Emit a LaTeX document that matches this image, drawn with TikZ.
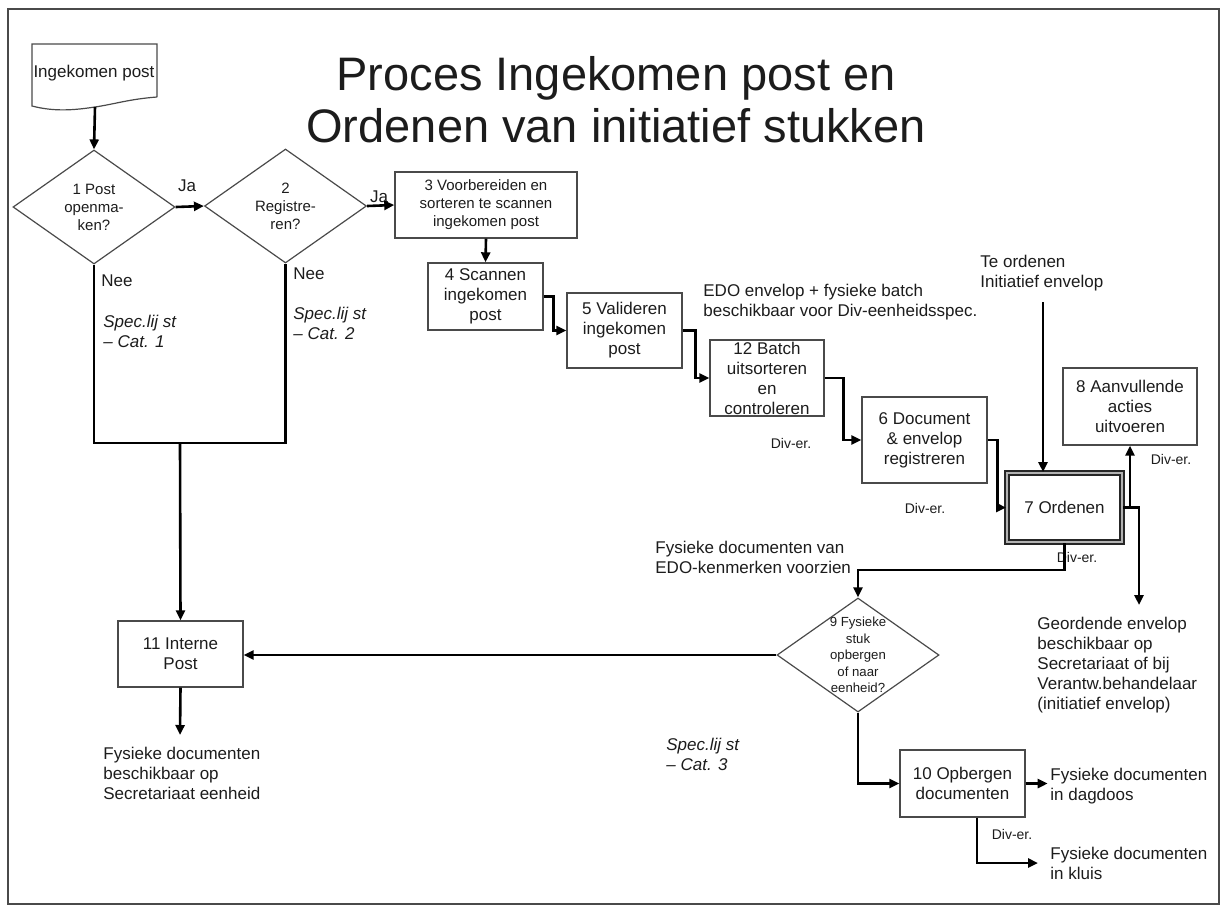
\documentclass[tikz,border=0pt]{standalone}
\usepackage{fontspec}
\setmainfont{Liberation Sans}
\usetikzlibrary{shapes.geometric, arrows.meta, positioning, calc}
\definecolor{lijngrijs}{HTML}{4A4A4A}
\definecolor{tekstzwart}{HTML}{1C1C1C}

\begin{document}
\begin{tikzpicture}[x=0.5pt, y=-0.5pt,
    proc/.style={rectangle, draw=lijngrijs, line width=0.7pt, inner sep=2pt, align=center, text=tekstzwart, font=\fontsize{8.5}{10}\selectfont},
    ordenen/.style={draw=black!85, double=gray!60, double distance=0.9pt, line width=1pt},
    beslis/.style={diamond, draw=lijngrijs, line width=0.6pt, inner sep=0pt, minimum width=81pt, minimum height=57pt, align=center, text=tekstzwart, font=\fontsize{7.5}{9}\selectfont},
    tekst/.style={inner sep=0pt, text=tekstzwart, font=\fontsize{8.5}{10}\selectfont},
    notitie/.style={tekst, anchor=north west, align=left},
    spec/.style={notitie, font=\fontsize{8.5}{10}\selectfont\itshape},
    klein/.style={tekst, font=\fontsize{7}{8}\selectfont},
    pijl/.style={-{Triangle[length=5pt, width=4.5pt]}, line width=1.3pt},
    lijn/.style={line width=1.3pt}
]
\useasboundingbox (0,0) rectangle (1221,912);
\draw[lijngrijs, line width=0.6pt] (8,9) rectangle (1219,904);

% titel
\node[tekst, font=\fontsize{23.5}{26}\selectfont, align=center, anchor=north] (titel) at (616,56) {Proces Ingekomen post en\\Ordenen van initiatief stukken};

% document ingekomen post
\node[tekst] (inpost) at (94,73) {Ingekomen post};
\draw[lijngrijs, line width=0.6pt] (157,97) -- (157,44) -- (32,44) -- (32,106)
    .. controls (55,112) and (75,110) .. (95,107) .. controls (115,104) and (130,99) .. (157,97);
\coordinate (inpostpunt) at (95,107);

% beslissingen
\node[beslis] (d1) at (94,207) {1 Post\\openma-\\ken?};
\node[beslis] (d2) at (285.5,206) {2\\Registre-\\ren?};
\node[beslis, inner sep=-3pt, font=\fontsize{6.6}{8.2}\selectfont] (d9) at (858,655) {9 Fysieke\\stuk\\opbergen\\of naar\\eenheid?};

% processtappen
\node[proc, minimum width=91pt, minimum height=33pt, font=\fontsize{7.5}{9}\selectfont] (b3) at (486,205) {3 Voorbereiden en\\sorteren te scannen\\ingekomen post};
\node[proc, minimum width=57.5pt, minimum height=33.5pt] (b4) at (485.5,296.5) {4 Scannen\\ingekomen\\post};
\node[proc, minimum width=57.5pt, minimum height=37.5pt] (b5) at (624.5,330.5) {5 Valideren\\ingekomen\\post};
\node[proc, minimum width=57pt, minimum height=38pt, inner ysep=0pt] (b12) at (767,378) {12 Batch\\uitsorteren\\en\\controleren};
\node[proc, minimum width=62.5pt, minimum height=43pt] (b6) at (924.5,440) {6 Document\\\& envelop\\registreren};
\node[proc, ordenen, minimum width=57.5pt, minimum height=34.5pt] (b7) at (1064.5,507.5) {7 Ordenen};
\node[proc, minimum width=67pt, minimum height=38.5pt] (b8) at (1130,406.5) {8 Aanvullende\\acties\\uitvoeren};
\node[proc, minimum width=62.5pt, minimum height=33.5pt] (b10) at (962.5,783.5) {10 Opbergen\\documenten};
\node[proc, minimum width=62.5pt, minimum height=33pt] (b11) at (180.5,654) {11 Interne\\Post};

% losse teksten
\node[tekst] (ja1) at (187,186) {Ja};
\node[tekst] (ja2) at (379,197) {Ja};
\node[tekst] (nee1) at (117,281) {Nee};
\node[tekst] (nee2) at (309,274) {Nee};
\node[spec] (spec1) at (103,315) {Spec.lij st\\– Cat. 1};
\node[spec] (spec2) at (293,307) {Spec.lij st\\– Cat. 2};
\node[spec] (spec3) at (666,738) {Spec.lij st\\– Cat. 3};
\node[notitie] (edo) at (703,284) {EDO envelop + fysieke batch\\beschikbaar voor Div-eenheidsspec.};
\node[notitie] (teord) at (980,255) {Te ordenen\\Initiatief envelop};
\node[notitie] (kenmerk) at (655,541) {Fysieke documenten van\\EDO-kenmerken voorzien};
\node[notitie] (geord) at (1037,617) {Geordende envelop\\beschikbaar op\\Secretariaat of bij\\Verantw.behandelaar\\(initiatief envelop)};
\node[notitie] (fysbesch) at (103,747) {Fysieke documenten\\beschikbaar op\\Secretariaat eenheid};
\node[notitie] (dagdoos) at (1050,768) {Fysieke documenten\\in dagdoos};
\node[notitie] (kluis) at (1050,847) {Fysieke documenten\\in kluis};
\node[klein] (div12) at (791,443) {Div-er.};
\node[klein] (div6) at (925,508) {Div-er.};
\node[klein] (div8) at (1171,459) {Div-er.};
\node[klein] (div7) at (1077,557) {Div-er.};
\node[klein] (div10) at (1012,834) {Div-er.};

% vrije eindpunten
\coordinate (teordpunt) at (1043,302);
\coordinate (geordpunt) at (1139,605);
\coordinate (samen) at (180,443);
\coordinate (fysbeschpunt) at (180,735);
\coordinate (kluispunt) at (1038,863);

% verbindingen
\draw[pijl] (inpostpunt) -- (d1.north);
\draw[pijl] (d1.east) -- (d2.west);
\draw[pijl] (d2.east) -- (b3.west);
\draw[pijl] (b3.south) -- (b4.north);
\draw[pijl] (b4.east) -- ++(10,0) |- (b5.west);
\draw[pijl] (b5.east) -- ++(13,0) |- (b12.west);
\draw[pijl] (b12.east) -- ++(19,0) |- (b6.west);
\draw[pijl] (b6.east) -- ++(10,0) |- (b7.west);
\draw[pijl] (teordpunt) -- (teordpunt |- b7.north);
\draw[pijl] (b7.east) -| (geordpunt);
\draw[pijl] (b7.east -| b8.south) -- (b8.south);
\draw[pijl] (b7.south) -- ++(0,27) -| (d9.north);
\draw[pijl] (d9.west) -- (d9.west -| b11.east);
\draw[pijl] (d9.south) |- (b10.west);
\draw[pijl] (b10.east) -- ++(22,0);
\draw[pijl] ([xshift=7.25pt]b10.south) |- (kluispunt);
\draw[lijn] (d1.south) |- (samen) -| (d2.south);
\draw[pijl] (samen) -- (b11.north);
\draw[pijl] (b11.south) -- (fysbeschpunt);

\end{tikzpicture}
\end{document}
